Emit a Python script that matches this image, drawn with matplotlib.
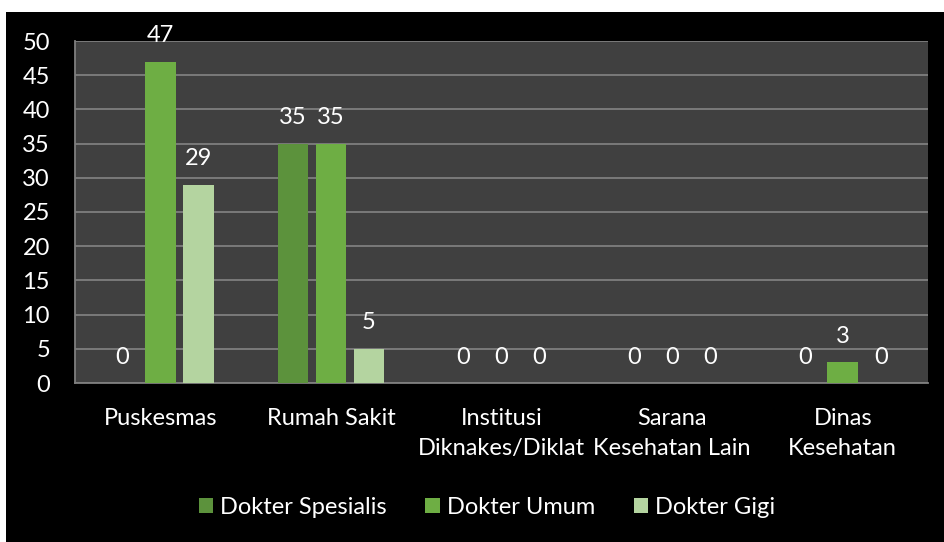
import numpy as np
import matplotlib.pyplot as plt
from matplotlib.patches import Rectangle

categories = ["Puskesmas", "Rumah Sakit", "Institusi\nDiknakes/Diklat",
              "Sarana\nKesehatan Lain", "Dinas\nKesehatan"]
series_names = ["Dokter Spesialis", "Dokter Umum", "Dokter Gigi"]
spesialis = [0, 35, 0, 0, 0]
umum = [47, 35, 0, 0, 3]
gigi = [29, 5, 0, 0, 0]
y_ticks = [0, 5, 10, 15, 20, 25, 30, 35, 40, 45, 50]

colors = ["#5c923c", "#6eae44", "#b4d4a0"]
font = "Lato"
plt.rcParams["font.family"] = [font, "DejaVu Sans"]
fs = 17

fig = plt.figure(figsize=(9.45, 5.42), dpi=100)
fig.patch.set_facecolor("white")
# black chart background, with a thin white margin top/left like the original
fig.add_artist(Rectangle((6 / 945, 0), 1, 1 - 12 / 542, transform=fig.transFigure,
                         facecolor="black", edgecolor="none", zorder=0))

ax = fig.add_axes([75 / 945, 1 - 383 / 542, (928 - 75) / 945, (383 - 41) / 542])
ax.set_facecolor("#404040")

x = np.arange(len(categories))
width = 0.18
step = 0.223
for i, (vals, name) in enumerate(zip([spesialis, umum, gigi], series_names)):
    pos = x + (i - 1) * step
    bars = ax.bar(pos, vals, width, color=colors[i], label=name, zorder=3)
    for p, v in zip(pos, vals):
        ax.annotate(str(v), (p, v), xytext=(0, 26), textcoords="offset pixels",
                    ha="center", va="center", color="white", fontsize=fs,
                    annotation_clip=False)

ax.set_xlim(-0.5, len(categories) - 0.5)
ax.set_ylim(0, 50)
ax.set_yticks(y_ticks)
ax.set_xticks(x)
ax.set_xticklabels(categories, linespacing=1.55)
ax.yaxis.grid(True, color="#7f7f7f", linewidth=1.3, zorder=1)
ax.tick_params(axis="both", length=0, colors="white", labelsize=fs)
ax.tick_params(axis="y", pad=18)
ax.tick_params(axis="x", pad=18)
for s in ["top", "right"]:
    ax.spines[s].set_visible(False)
for s in ["left", "bottom"]:
    ax.spines[s].set_color("#7f7f7f")
    ax.spines[s].set_linewidth(1.3)

leg = fig.legend(loc="center", bbox_to_anchor=(487 / 945, 1 - 507 / 542), ncol=3,
                 frameon=False, fontsize=fs, handlelength=0.6, handleheight=0.6,
                 handletextpad=0.3, columnspacing=1.65)
for t in leg.get_texts():
    t.set_color("white")

fig.savefig("out.png", dpi=100, facecolor=fig.get_facecolor())
